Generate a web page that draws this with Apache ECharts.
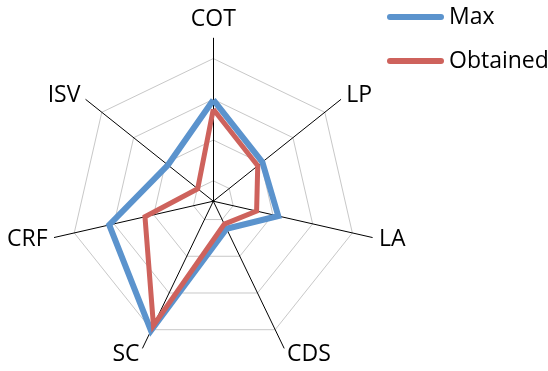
<!DOCTYPE html>
<html>
<head>
<meta charset="utf-8">
<style>
  html, body { margin: 0; padding: 0; background: #ffffff; }
  #chart { width: 548px; height: 371px; }
</style>
<script src="https://cdn.jsdelivr.net/npm/echarts@6/dist/echarts.min.js"></script>
</head>
<body>
<div id="chart"></div>
<script>
// Axes listed clockwise starting from the top
const categories = ['COT', 'LP', 'LA', 'CDS', 'SC', 'CRF', 'ISV'];
const maxValues = [4.97, 3.08, 3.27, 1.5, 7.05, 5.24, 2.85];
const obtainedValues = [4.51, 2.79, 2.18, 1.25, 6.77, 3.44, 0.98];
const seriesNames = ['Max', 'Obtained'];
const scaleMax = 8;

// ECharts lays radar indicators out counter-clockwise, so keep the first
// axis on top and reverse the rest to get a clockwise layout.
function toRadarOrder(arr) {
  return [arr[0]].concat(arr.slice(1).reverse());
}

const FONT = '"Open Sans", sans-serif';
const chart = echarts.init(document.getElementById('chart'), null, { renderer: 'canvas' });

chart.setOption({
  animation: false,
  backgroundColor: '#ffffff',
  legend: {
    orient: 'vertical',
    left: 387,
    top: 2,
    padding: 0,
    itemWidth: 57,
    itemHeight: 6,
    itemGap: 14,
    icon: 'path://M3,0 H54 A3,3 0 0 1 54,6 H3 A3,3 0 0 1 3,0 Z',
    textStyle: { fontFamily: FONT, fontSize: 23, color: '#000000', lineHeight: 30 },
    data: seriesNames
  },
  radar: {
    center: [213.3, 201.2],
    radius: 163,
    startAngle: 90,
    shape: 'polygon',
    splitNumber: 8,
    indicator: toRadarOrder(categories).map(name => ({ name: name, min: 0, max: scaleMax })),
    axisName: {
      color: '#000000',
      fontFamily: FONT,
      fontSize: 23
    },
    nameGap: 7,
    axisLine: { show: true, lineStyle: { color: '#000000', width: 1 } },
    axisTick: { show: false },
    axisLabel: { show: false },
    splitLine: {
      show: true,
      lineStyle: { color: ['transparent', '#c8c8c8'], width: 1 }
    },
    splitArea: { show: false }
  },
  series: [{
    type: 'radar',
    symbol: 'none',
    data: [
      {
        name: seriesNames[0],
        value: toRadarOrder(maxValues),
        lineStyle: { color: '#5b93cd', width: 6, join: 'miter' },
        itemStyle: { color: '#5b93cd' }
      },
      {
        name: seriesNames[1],
        value: toRadarOrder(obtainedValues),
        lineStyle: { color: '#ce625c', width: 5, join: 'miter' },
        itemStyle: { color: '#ce625c' }
      }
    ]
  }]
});
</script>
</body>
</html>
